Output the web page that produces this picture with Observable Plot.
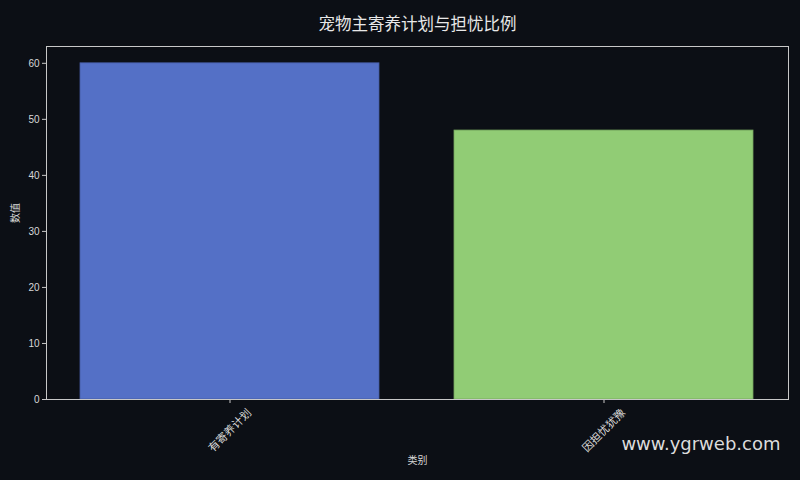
<!DOCTYPE html>
<html><head><meta charset="utf-8">
<script src="https://cdn.jsdelivr.net/npm/d3@7"></script>
<script src="https://cdn.jsdelivr.net/npm/@observablehq/plot@0.6"></script>
<style>
html,body{margin:0;padding:0;background:#0c0f15;}
#chart svg{display:block;}
</style>
</head><body><div id="chart"></div>
<script>
const categories = ["有寄养计划", "因担忧犹豫"];
const values = [60, 48];
const colors = ["#5470c6", "#91cc75"];
const yTicks = [0, 10, 20, 30, 40, 50, 60];
const title = "宠物主寄养计划与担忧比例";
const xLabel = "类别";
const yLabel = "数值";
const watermark = "www.ygrweb.com";

const data = categories.map((c, i) => ({category: c, value: values[i], color: colors[i]}));
const font = "'Liberation Sans','Noto Sans CJK SC',sans-serif";
const cjk = "'Noto Sans CJK SC',sans-serif";
const fg = "#d8d8d8";

const chart = Plot.plot({
  width: 800,
  height: 480,
  marginLeft: 46,
  marginRight: 12,
  marginTop: 46,
  marginBottom: 81,
  style: {background: "#0c0f15", color: fg, fontFamily: font, fontSize: "10px"},
  x: {domain: categories, paddingInner: 0.2, paddingOuter: 0.09, label: null},
  y: {domain: [0, 63], label: null},
  marks: [
    Plot.barY(data, {x: "category", y: "value", fill: "color", stroke: d => d3.color(d.color).darker(0.6).formatHex(), strokeWidth: 0.8}),
    Plot.frame({stroke: "#c8c8c8", strokeWidth: 1}),
    Plot.axisY({ticks: yTicks, tickSize: 4, tickPadding: 3, stroke: "#c8c8c8", fill: fg, fontSize: 10, label: null}),
    Plot.axisX({tickSize: 4, tickFormat: () => "", stroke: "#c8c8c8", label: null}),
    Plot.text(data, {x: "category", y: 0, text: "category", rotate: -45, dy: 31, textAnchor: "middle", fontSize: 11, fill: fg, fontFamily: cjk}),
    Plot.text([title], {frameAnchor: "top", dy: -28, fontSize: 16.5, fill: "#e8e8e8", fontFamily: cjk}),
    Plot.text([xLabel], {frameAnchor: "bottom", dy: 64, fontSize: 10, fill: fg, fontFamily: cjk}),
    Plot.text([yLabel], {frameAnchor: "left", dx: -31, rotate: -90, fontSize: 10, fill: fg, fontFamily: cjk}),
    Plot.text([watermark], {frameAnchor: "bottom-right", dx: -8, dy: 50, textAnchor: "end", fontSize: 18, fill: "#dcdcdc", fontFamily: "'DejaVu Sans',sans-serif"})
  ]
});
document.getElementById("chart").appendChild(chart);
</script>
</body></html>
